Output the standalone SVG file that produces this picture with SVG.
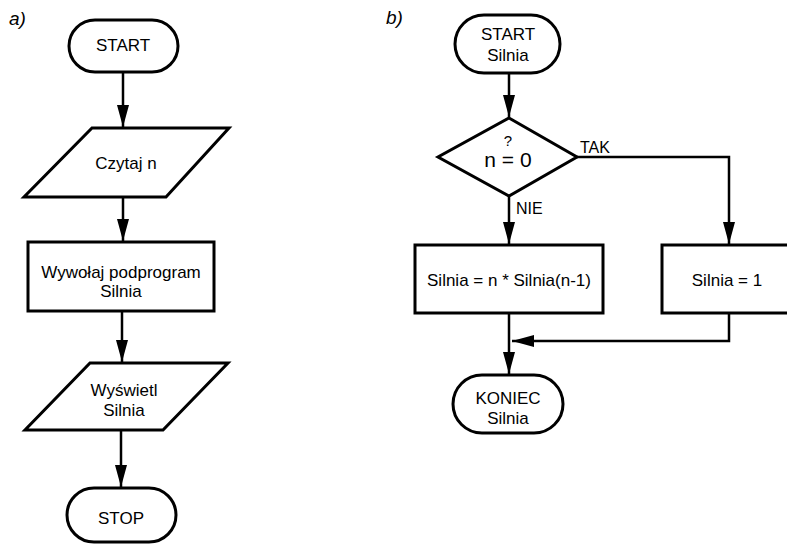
<svg xmlns="http://www.w3.org/2000/svg" width="787" height="547" viewBox="0 0 787 547">
<defs>
<style>
.s{fill:#fff;stroke:#000;stroke-width:3}
.t{font-family:"Liberation Sans",Arial,sans-serif;font-size:17px;text-anchor:middle;fill:#000}
.l{font-family:"Liberation Sans",Arial,sans-serif;font-size:16px;fill:#000}
.c{fill:none;stroke:#000;stroke-width:2.5}
.h{font-family:"Liberation Sans",Arial,sans-serif;font-size:19px;font-style:italic;fill:#000}
</style>
<marker id="ar" markerUnits="userSpaceOnUse" markerWidth="22" markerHeight="12" refX="22" refY="6" orient="auto">
<path d="M0,0 L22,6 L0,12 z" fill="#000"/>
</marker>
</defs>
<rect width="787" height="547" fill="#fff"/>
<text class="h" x="9" y="25">a)</text>
<text class="h" x="386" y="24">b)</text>
<g id="conn">
<path class="c" d="M123,72 V127" marker-end="url(#ar)"/>
<path class="c" d="M123,197 V241" marker-end="url(#ar)"/>
<path class="c" d="M122,311 V362" marker-end="url(#ar)"/>
<path class="c" d="M121,430 V487" marker-end="url(#ar)"/>
<path class="c" d="M509,73 V117" marker-end="url(#ar)"/>
<path class="c" d="M509,196 V244" marker-end="url(#ar)"/>
<path class="c" d="M577,157 H729 V244" marker-end="url(#ar)"/>
<path class="c" d="M509,313 V374" marker-end="url(#ar)"/>
<path class="c" d="M729,313 V341 H512" marker-end="url(#ar)"/>
<text class="l" x="580" y="153">TAK</text>
<text class="l" x="516" y="214">NIE</text>
</g>
<g id="start">
<rect class="s" x="69" y="20" width="109" height="52" rx="26"/>
<text class="t" x="123" y="51">START</text>
</g>
<g id="czytaj">
<polygon class="s" points="92,128 229,128 166,197 24,197"/>
<text class="t" x="126" y="169">Czytaj n</text>
</g>
<g id="wywolaj">
<rect class="s" x="28" y="242" width="186" height="69"/>
<text class="t" x="121" y="278">Wywołaj podprogram</text>
<text class="t" x="121" y="297">Silnia</text>
</g>
<g id="wyswietl">
<polygon class="s" points="90,363 228,363 163,430 25,430"/>
<text class="t" x="124" y="396">Wyświetl</text>
<text class="t" x="124" y="416">Silnia</text>
</g>
<g id="stop">
<rect class="s" x="67" y="488" width="109" height="54" rx="27"/>
<text class="t" x="121" y="524">STOP</text>
</g>
<g id="startSilnia">
<rect class="s" x="455" y="15" width="105" height="58" rx="29"/>
<text class="t" x="508" y="40">START</text>
<text class="t" x="508" y="61">Silnia</text>
</g>
<g id="decision">
<polygon class="s" points="509,118 577,157 509,196 438,157"/>
<text class="t" x="508" y="146" style="font-size:15px">?</text>
<text class="t" x="508" y="167" style="font-size:21px">n = 0</text>
</g>
<g id="rekur">
<rect class="s" x="415" y="245" width="188" height="68"/>
<text class="t" x="509" y="286">Silnia = n * Silnia(n-1)</text>
</g>
<g id="jeden">
<rect class="s" x="662" y="245" width="134" height="68"/>
<text class="t" x="727" y="286">Silnia = 1</text>
</g>
<g id="koniec">
<rect class="s" x="453" y="375" width="110" height="58" rx="29"/>
<text class="t" x="508" y="404">KONIEC</text>
<text class="t" x="508" y="424">Silnia</text>
</g>
</svg>
